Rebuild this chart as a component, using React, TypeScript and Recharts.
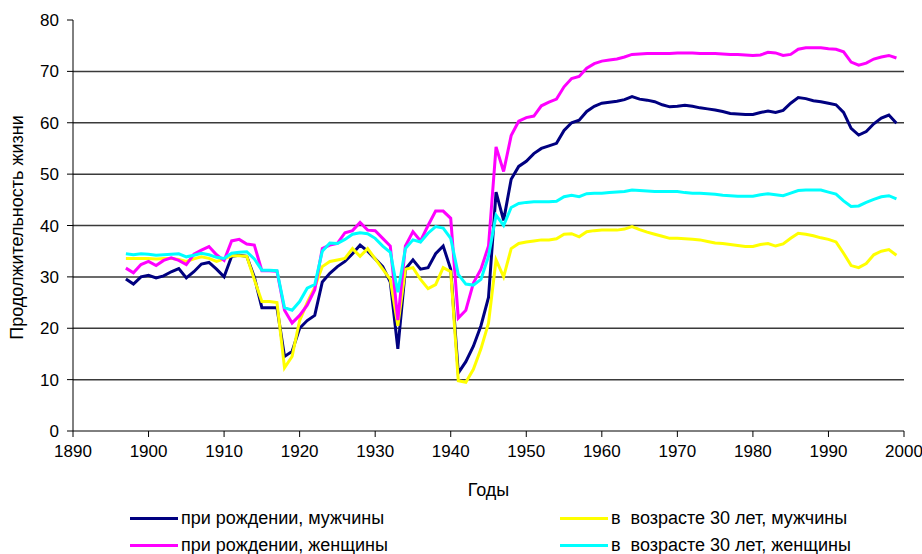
import { LineChart, Line, XAxis, YAxis, Legend, ReferenceLine } from "recharts";

// годы наблюдений
const years = [
  1897, 1898, 1899,
  1900, 1901, 1902, 1903, 1904, 1905, 1906, 1907, 1908, 1909,
  1910, 1911, 1912, 1913, 1914, 1915, 1916, 1917, 1918, 1919,
  1920, 1921, 1922, 1923, 1924, 1925, 1926, 1927, 1928, 1929,
  1930, 1931, 1932, 1933, 1934, 1935, 1936, 1937, 1938, 1939,
  1940, 1941, 1942, 1943, 1944, 1945, 1946, 1947, 1948, 1949,
  1950, 1951, 1952, 1953, 1954, 1955, 1956, 1957, 1958, 1959,
  1960, 1961, 1962, 1963, 1964, 1965, 1966, 1967, 1968, 1969,
  1970, 1971, 1972, 1973, 1974, 1975, 1976, 1977, 1978, 1979,
  1980, 1981, 1982, 1983, 1984, 1985, 1986, 1987, 1988, 1989,
  1990, 1991, 1992, 1993, 1994, 1995, 1996, 1997, 1998, 1999,
];

const maleBirth = [
  29.6, 28.6, 30.0,
  30.3, 29.8, 30.2, 31.0, 31.6, 29.8, 31.0, 32.5, 32.8, 31.5,
  30.0, 34.0, 34.2, 34.0, 30.0, 24.0, 24.0, 24.0, 14.5, 15.5,
  20.0, 21.5, 22.5, 29.0, 30.7, 32.0, 33.0, 34.5, 36.2, 35.0,
  33.5, 32.0, 29.0, 16.0, 31.5, 33.3, 31.5, 31.8, 34.5, 36.0,
  31.5, 11.3, 13.5, 16.5, 20.5, 26.0, 46.5, 41.0, 49.0, 51.5,
  52.5, 54.0, 55.0, 55.5, 56.0, 58.5, 60.0, 60.5, 62.2, 63.2,
  63.8, 64.0, 64.2, 64.5, 65.1, 64.6, 64.4, 64.1, 63.5, 63.1,
  63.2, 63.4, 63.2, 62.9, 62.7, 62.5, 62.2, 61.8, 61.7, 61.6,
  61.6, 62.0, 62.3, 62.0, 62.4, 63.8, 64.9, 64.7, 64.3, 64.1,
  63.8, 63.5, 62.0, 58.9, 57.6, 58.3, 59.8, 60.9, 61.5, 59.9,
];

const maleThirty = [
  33.6, 33.6, 33.6,
  33.6, 33.5, 33.6, 33.6, 33.4, 33.0, 33.5, 33.9, 33.6, 33.0,
  33.5, 34.1, 34.1, 34.0, 29.5, 25.2, 25.2, 25.0, 12.3, 14.5,
  21.5, 25.0, 28.0, 32.0, 33.0, 33.3, 33.6, 35.5, 34.0, 35.5,
  33.5, 31.5, 29.5, 20.5, 31.5, 31.8, 29.5, 27.7, 28.5, 31.8,
  31.0, 9.8, 9.5, 12.0, 16.0, 21.0, 33.3, 30.0, 35.5, 36.5,
  36.8, 37.0, 37.2, 37.2, 37.4, 38.3, 38.4, 37.8, 38.8, 39.0,
  39.1, 39.1, 39.1, 39.3, 39.8, 39.2, 38.7, 38.3, 37.9, 37.5,
  37.5, 37.4, 37.3, 37.2, 36.9, 36.6, 36.5, 36.3, 36.1, 35.9,
  35.9, 36.3, 36.5, 36.0, 36.4, 37.5, 38.5, 38.3, 38.0, 37.6,
  37.3, 36.8, 34.6, 32.2, 31.8, 32.6, 34.3, 35.0, 35.3, 34.2,
];

const femaleBirth = [
  31.7, 30.8, 32.4,
  33.0, 32.2, 33.2, 33.7, 33.2, 32.4, 34.4, 35.2, 35.9, 34.3,
  33.2, 37.0, 37.3, 36.4, 36.2, 31.2, 31.2, 31.1, 23.5, 21.0,
  22.5, 24.5, 27.5, 35.5, 36.2, 36.5, 38.6, 39.0, 40.6, 39.1,
  39.0, 37.5, 36.0, 21.6, 36.0, 38.8, 37.0, 40.0, 42.8, 42.8,
  41.4, 22.0, 23.5, 28.8, 31.5, 36.0, 55.3, 50.5, 57.5, 60.3,
  61.0, 61.3, 63.3, 64.0, 64.6, 67.0, 68.6, 69.0, 70.6, 71.5,
  72.0, 72.2, 72.4, 72.8, 73.3, 73.4, 73.5, 73.5, 73.5, 73.5,
  73.6, 73.6, 73.6, 73.5, 73.5, 73.5, 73.4, 73.3, 73.3, 73.2,
  73.1, 73.2, 73.7, 73.6, 73.1, 73.3, 74.3, 74.6, 74.6, 74.6,
  74.4, 74.3, 73.8, 71.8, 71.2, 71.6, 72.4, 72.8, 73.1, 72.6,
];

const femaleThirty = [
  34.5, 34.3, 34.5,
  34.4, 34.2, 34.3, 34.4, 34.5, 33.9, 34.2, 34.6, 34.3, 33.8,
  33.6, 34.6, 34.8, 34.9, 33.5, 31.3, 31.3, 31.2, 24.0, 23.5,
  25.2, 27.8, 28.5, 35.0, 36.6, 36.5, 37.3, 38.3, 38.6, 38.4,
  37.5, 36.0, 34.8, 27.0, 35.5, 37.2, 36.8, 38.5, 39.8, 39.5,
  37.5, 30.5, 28.6, 28.4, 29.5, 34.0, 42.0, 40.0, 43.5, 44.3,
  44.5, 44.6, 44.6, 44.6, 44.7, 45.6, 45.9, 45.6, 46.2, 46.3,
  46.3, 46.4, 46.5, 46.6, 46.9, 46.8, 46.7, 46.6, 46.6, 46.6,
  46.6, 46.4, 46.3, 46.3, 46.2, 46.1, 45.9, 45.8, 45.7, 45.7,
  45.7, 46.0, 46.2, 46.0, 45.8, 46.3, 46.8, 46.9, 46.9, 46.9,
  46.5, 46.1, 44.8, 43.7, 43.8, 44.5, 45.1, 45.6, 45.8, 45.2,
];

const xTicks = [1890, 1900, 1910, 1920, 1930, 1940, 1950, 1960, 1970, 1980, 1990, 2000];
const yTicks = [0, 10, 20, 30, 40, 50, 60, 70, 80];
const gridLevels = [10, 20, 30, 40, 50, 60, 70];

// порядок как в легенде: слева мужчины/женщины при рождении, справа в 30 лет
const series = [
  { key: "maleBirth", name: "при рождении, мужчины", color: "#000080" },
  { key: "maleThirty", name: "в  возрасте 30 лет, мужчины", color: "#ffff00" },
  { key: "femaleBirth", name: "при рождении, женщины", color: "#ff00ff" },
  { key: "femaleThirty", name: "в  возрасте 30 лет, женщины", color: "#00ffff" },
];

const data = years.map((year, i) => ({
  year,
  maleBirth: maleBirth[i],
  maleThirty: maleThirty[i],
  femaleBirth: femaleBirth[i],
  femaleThirty: femaleThirty[i],
}));

const FONT = "'Liberation Sans', Arial, sans-serif";
const legendCols = [130, 560];

function LegendBox({ payload }: any) {
  const items = series
    .map((s) => (payload || []).find((p: any) => p.dataKey === s.key || p.value === s.name))
    .filter(Boolean);
  return (
    <div style={{ position: "relative", width: 922, height: 54 }}>
      {items.map((item: any, i: number) => (
        <div
          key={item.value}
          style={{
            position: "absolute",
            left: legendCols[i % 2],
            top: Math.floor(i / 2) * 27,
            height: 26,
            display: "flex",
            alignItems: "center",
            whiteSpace: "pre",
          }}
        >
          <span style={{ display: "inline-block", width: 48, height: 3, background: item.color, marginRight: 3 }} />
          <span style={{ fontFamily: FONT, fontSize: 18, color: "#000" }}>{item.value}</span>
        </div>
      ))}
    </div>
  );
}

export default function App() {
  return (
    <div style={{ position: "absolute", left: 0, top: 0, width: 922, height: 554, background: "#fff" }}>
      <LineChart width={922} height={554} data={data} margin={{ top: 20, right: 18, bottom: 0, left: 0 }}>
        <XAxis
          dataKey="year"
          type="number"
          domain={[1890, 2000]}
          ticks={xTicks}
          height={123}
          tickSize={6}
          tickMargin={8}
          stroke="#000"
          tick={{ fill: "#000", fontSize: 17, fontFamily: FONT }}
          label={{
            content: ({ viewBox }: any) => (
              <text
                x={viewBox.x + viewBox.width / 2}
                y={viewBox.y + 65}
                textAnchor="middle"
                fontFamily={FONT}
                fontSize={18}
                fill="#000"
              >
                Годы
              </text>
            ),
          }}
        />
        <YAxis
          domain={[0, 80]}
          ticks={yTicks}
          width={73}
          tickSize={6}
          tickMargin={8}
          stroke="#000"
          tick={{ fill: "#000", fontSize: 17, fontFamily: FONT }}
          label={{
            content: ({ viewBox }: any) => {
              const cx = 17;
              const cy = viewBox.y + viewBox.height / 2 + 2;
              return (
                <text
                  x={cx}
                  y={cy}
                  transform={`rotate(-90 ${cx} ${cy})`}
                  textAnchor="middle"
                  dominantBaseline="central"
                  fontFamily={FONT}
                  fontSize={18}
                  fill="#000"
                >
                  Продолжительность жизни
                </text>
              );
            },
          }}
        />
        {gridLevels.map((v) => (
          <ReferenceLine key={v} y={v} stroke="#3a3a3a" strokeWidth={1.5} />
        ))}
        <Legend
          layout="horizontal"
          align="center"
          verticalAlign="middle"
          wrapperStyle={{ top: 505, left: 0, width: 922 }}
          content={<LegendBox />}
        />
        {series.map((s) => (
          <Line
            key={s.key}
            type="linear"
            dataKey={s.key}
            name={s.name}
            stroke={s.color}
            strokeWidth={3}
            dot={false}
            activeDot={false}
            isAnimationActive={false}
          />
        ))}
      </LineChart>
    </div>
  );
}
